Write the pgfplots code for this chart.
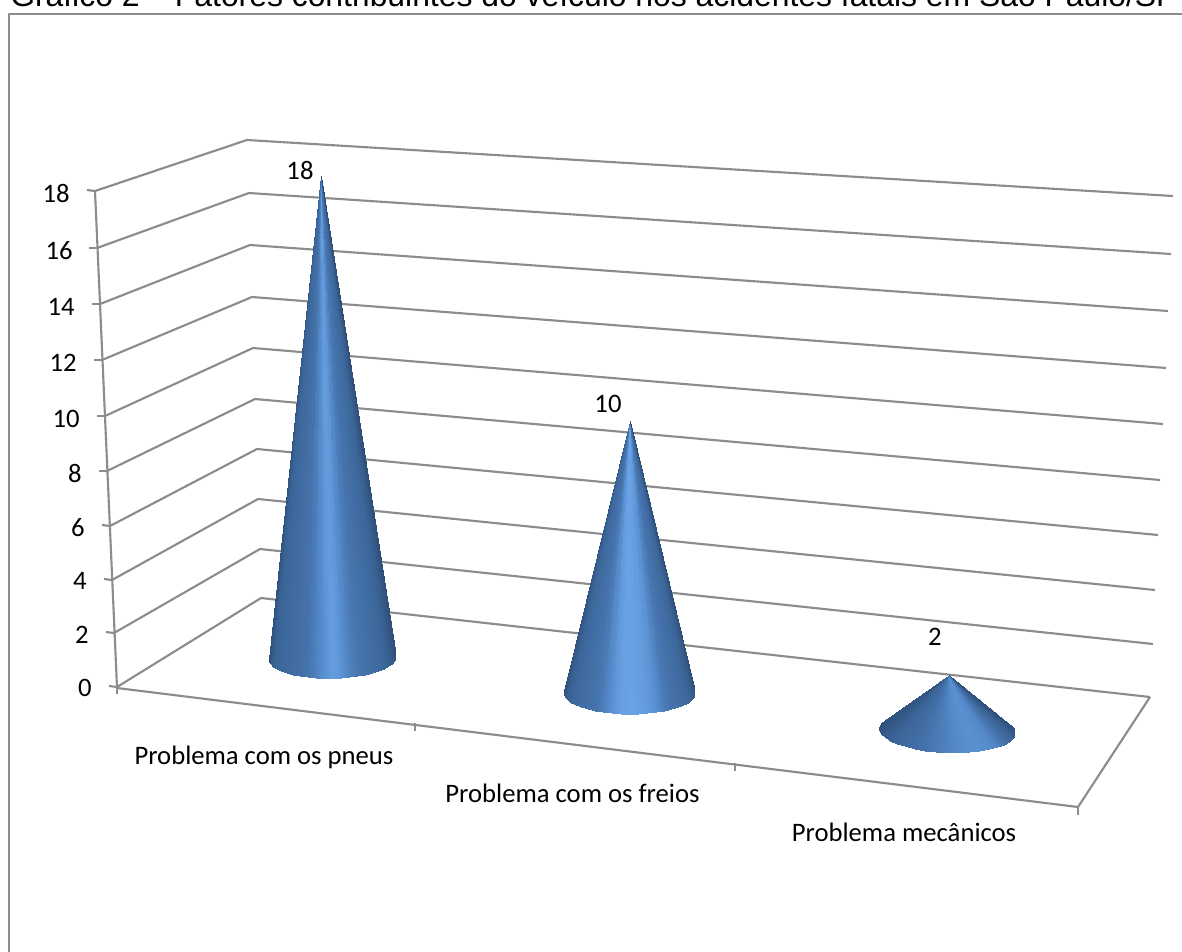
\documentclass[border=0pt]{standalone}
\usepackage{fontspec}
\setmainfont{Carlito}
\newfontfamily\titlefont{Liberation Sans}
\usepackage{pgfplots}
\usepackage{pgfplotstable}
\pgfplotsset{compat=1.18}

\definecolor{gridgray}{HTML}{8C8C8C}

% Cone skin: two scanlines (a=1 apex, a=0 base rim); k is the position round the rim,
% c1, c2, c3 the shade of each cone.
\pgfplotstableread{
k a c1 c2 c3
-12 1 .03 .03 .1
-11 1 .08 .08 .08
-10 1 .16 .16 .08
-9 1 .25 .25 .1
-8 1 .3 .32 .14
-7 1 .34 .38 .2
-6 1 .38 .42 .27
-5 1 .42 .48 .33
-4 1 .47 .54 .38
-3 1 .55 .66 .45
-2 1 .68 .84 .54
-1 1 .82 .97 .62
0 1 .95 1 .68
1 1 .86 .97 .76
2 1 .7 .92 .8
3 1 .58 .82 .82
4 1 .5 .64 .78
5 1 .44 .54 .7
6 1 .38 .46 .56
7 1 .32 .4 .4
8 1 .25 .33 .26
9 1 .17 .25 .16
10 1 .1 .16 .08
11 1 .05 .08 .05
12 1 .02 .02 .05
-12 0 .03 .03 .1
-11 0 .08 .08 .08
-10 0 .16 .16 .08
-9 0 .25 .25 .1
-8 0 .3 .32 .14
-7 0 .34 .38 .2
-6 0 .38 .42 .27
-5 0 .42 .48 .33
-4 0 .47 .54 .38
-3 0 .55 .66 .45
-2 0 .68 .84 .54
-1 0 .82 .97 .62
0 0 .95 1 .68
1 0 .86 .97 .76
2 0 .7 .92 .8
3 0 .58 .82 .82
4 0 .5 .64 .78
5 0 .44 .54 .7
6 0 .38 .46 .56
7 0 .32 .4 .4
8 0 .25 .33 .26
9 0 .17 .25 .16
10 0 .1 .16 .08
11 0 .05 .08 .05
12 0 .02 .02 .05
}\conemesh

% #1,#2 base centre; #3,#4 rim radii; #5 rim tilt; #6 apex shift;
% #7 value; #8 drawn height per unit of value; #9 shade column
\newcommand{\cone}[9]{%
  \pgfmathsetmacro\sweep{90+asin(#4/(#7*#8))}%
  \addplot[surf, shader=interp, mesh/cols=25, point meta=explicit]
    table[
      x expr={(1-\thisrow{a})*(#1+#3*sin(\thisrow{k}/12*\sweep))+\thisrow{a}*(#1+#6)},
      y expr={(1-\thisrow{a})*(#2-#5*sin(\thisrow{k}/12*\sweep)+#4*cos(\thisrow{k}/12*\sweep))+\thisrow{a}*(#2-#7*#8)},
      meta=#9]
    {\conemesh};
}

\begin{document}
\begin{tikzpicture}
\path[use as bounding box] (0,0) rectangle (886.5pt,713.25pt);
\clip (0,0) rectangle (886.5pt,713.25pt);
\begin{axis}[
  at={(0,0)}, anchor=south west,
  scale only axis, width=886.5pt, height=713.25pt,
  xmin=0, xmax=1182, ymin=0, ymax=951, y dir=reverse,
  axis lines=none, clip=true,
  point meta min=0, point meta max=1,
  colormap={conic}{rgb255(0cm)=(44,76,116); rgb255(3cm)=(60,102,153); rgb255(5.5cm)=(70,116,174); rgb255(8cm)=(88,142,206); rgb255(10cm)=(106,163,230)},
  every axis plot post/.append style={mark=none},
  wire/.style={gridgray, line width=1.6pt, line join=round},
]
% chart frame
\addplot[wire, line width=1.7pt] coordinates {(8.7,960) (8.7,14) (1195,14)};

% side wall and back wall, one line for each level
\addplot[wire] coordinates {(95,191) (247,140) (1173,196)};
\addplot[wire] coordinates {(97,248) (249,193) (1171,254)};
\addplot[wire] coordinates {(100,304) (250,245) (1168,311)};
\addplot[wire] coordinates {(102,360) (252,297) (1166,368)};
\addplot[wire] coordinates {(105,416) (253,348) (1163,424)};
\addplot[wire] coordinates {(107,471) (255,399) (1160,480)};
\addplot[wire] coordinates {(110,526) (257,449) (1158,535)};
\addplot[wire] coordinates {(112,580) (258,499) (1155,590)};
\addplot[wire] coordinates {(114,633) (260,549) (1153,644)};
\addplot[wire] coordinates {(117,687) (261,598) (1150,697)};

% value axis and its ticks
\addplot[wire] coordinates {(95,191) (117,687)};
\addplot[wire] coordinates {(87,190) (95,191)};
\addplot[wire] coordinates {(89,248) (97,248)};
\addplot[wire] coordinates {(92,304) (100,304)};
\addplot[wire] coordinates {(94,360) (102,360)};
\addplot[wire] coordinates {(97,416) (105,416)};
\addplot[wire] coordinates {(99,471) (107,471)};
\addplot[wire] coordinates {(102,525) (110,526)};
\addplot[wire] coordinates {(104,579) (112,580)};
\addplot[wire] coordinates {(106,632) (114,633)};
\addplot[wire] coordinates {(109,686) (117,687)};

% floor edges and category ticks
\addplot[wire] coordinates {(117,688) (1078,807) (1150,697)};
\addplot[wire] coordinates {(117,688) (117,694)};
\addplot[wire] coordinates {(415,723) (415,731)};
\addplot[wire] coordinates {(735,763) (735,771)};
\addplot[wire] coordinates {(1078,807) (1078,815)};

% cones
\cone{332.5}{658.5}{63.5}{19.5}{1.5}{-11.5}{18}{26.83}{c1}
\cone{629.5}{693}{65.5}{21}{0}{0.2}{10}{27.2}{c2}
\cone{947}{730.5}{68}{22}{-2.3}{1.7}{2}{27.75}{c3}

% value axis labels
\begin{scope}[every node/.style={anchor=base east, font=\fontsize{20}{20}\selectfont, inner sep=0pt}]
\node at (axis cs:70,202.5) {18};
\node at (axis cs:73,259.5) {16};
\node at (axis cs:75,315.5) {14};
\node at (axis cs:77,371.5) {12};
\node at (axis cs:80,427.5) {10};
\node at (axis cs:82,482.5) {8};
\node at (axis cs:85,536.5) {6};
\node at (axis cs:87,589.5) {4};
\node at (axis cs:89,643.5) {2};
\node at (axis cs:92,696.5) {0};
\end{scope}

% value labels and category labels
\begin{scope}[every node/.style={anchor=base, font=\fontsize{20}{20}\selectfont, inner sep=0pt}]
\node at (axis cs:300,179.5) {18};
\node at (axis cs:608,412.5) {10};
\node at (axis cs:935,645.5) {2};
\node at (axis cs:264,764.5) {Problema com os pneus};
\node at (axis cs:572.5,802) {Problema com os freios};
\node at (axis cs:904,841.5) {Problema mecânicos};
\end{scope}

% heading above the frame
\node[anchor=base west, inner sep=0pt, font=\titlefont\fontsize{23.9}{23.9}\selectfont] at (axis cs:10,6.5)
  {Gráfico 2 – Fatores contribuintes do veículo nos acidentes fatais em São Paulo/SP};
\end{axis}
\end{tikzpicture}
\end{document}
